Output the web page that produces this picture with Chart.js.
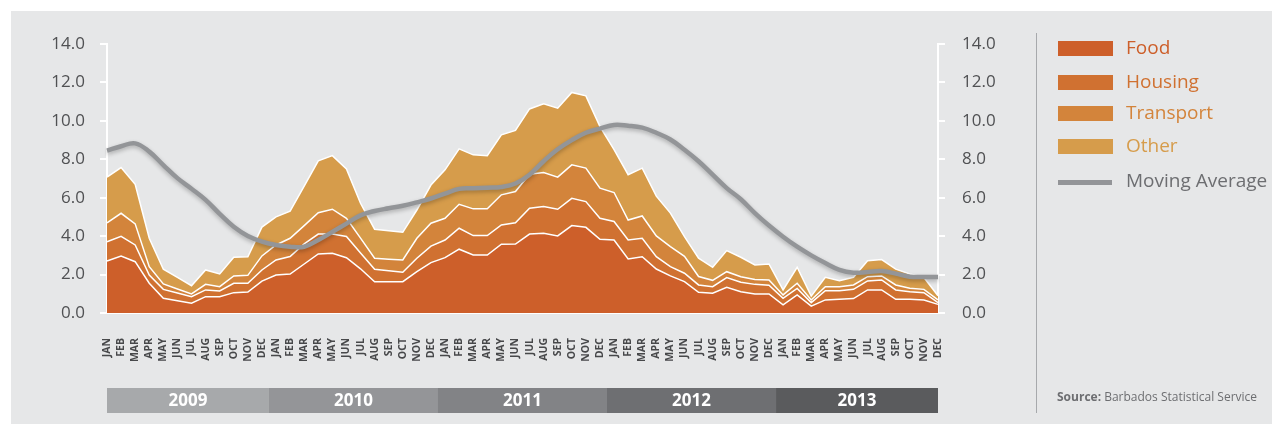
<!DOCTYPE html>
<html>
<head>
<meta charset="utf-8">
<script src="https://cdn.jsdelivr.net/npm/chart.js@4.4.1/dist/chart.umd.min.js"></script>
<style>
  html, body { margin: 0; padding: 0; background: #fff; }
  #panel { position: absolute; left: 11px; top: 11px; width: 1261px; height: 413px; background: #e6e7e8; }
  #chart { position: absolute; left: 0; top: 0; }
</style>
</head>
<body>
<div id="panel"></div>
<canvas id="chart" width="1272" height="424"></canvas>
<script>
// Valeurs (points de pourcentage)
const monthNames = ['JAN', 'FEB', 'MAR', 'APR', 'MAY', 'JUN', 'JUL', 'AUG', 'SEP', 'OCT', 'NOV', 'DEC'];
const years = ['2009', '2010', '2011', '2012', '2013'];
const seriesNames = ['Food', 'Housing', 'Transport', 'Other', 'Moving Average'];

const food = [
  2.71, 2.97, 2.67, 1.55, 0.77, 0.64, 0.51, 0.85, 0.85, 1.06, 1.09, 1.66,
  1.98, 2.03, 2.55, 3.07, 3.11, 2.88, 2.30, 1.63, 1.63, 1.63, 2.15, 2.62,
  2.88, 3.32, 3.02, 3.02, 3.58, 3.59, 4.11, 4.15, 4.01, 4.55, 4.46, 3.84,
  3.80, 2.81, 2.93, 2.29, 1.93, 1.63, 1.08, 1.03, 1.34, 1.11, 0.99, 0.99,
  0.42, 0.94, 0.36, 0.68, 0.71, 0.75, 1.20, 1.20, 0.71, 0.71, 0.68, 0.45,
];
const housing = [
  1.00, 1.02, 0.87, 0.43, 0.46, 0.40, 0.34, 0.35, 0.30, 0.49, 0.46, 0.58,
  0.78, 0.91, 1.05, 1.04, 1.00, 1.10, 0.82, 0.65, 0.57, 0.49, 0.70, 0.86,
  0.92, 1.09, 1.01, 1.01, 1.00, 1.11, 1.34, 1.39, 1.39, 1.42, 1.34, 1.09,
  0.96, 0.99, 0.96, 0.64, 0.48, 0.44, 0.38, 0.34, 0.50, 0.49, 0.50, 0.46,
  0.34, 0.34, 0.18, 0.48, 0.45, 0.48, 0.47, 0.52, 0.49, 0.40, 0.38, 0.09,
];
const transport = [
  0.98, 1.20, 1.10, 0.43, 0.28, 0.21, 0.14, 0.29, 0.22, 0.38, 0.41, 0.73,
  0.78, 0.95, 0.95, 1.11, 1.29, 0.95, 0.78, 0.57, 0.60, 0.64, 1.04, 1.19,
  1.13, 1.25, 1.39, 1.39, 1.57, 1.62, 1.77, 1.77, 1.67, 1.74, 1.74, 1.57,
  1.51, 1.04, 1.16, 1.08, 1.05, 0.88, 0.44, 0.33, 0.31, 0.29, 0.25, 0.27,
  0.18, 0.27, 0.14, 0.21, 0.21, 0.23, 0.22, 0.21, 0.26, 0.18, 0.17, 0.14,
];
const other = [
  2.38, 2.38, 2.06, 1.48, 0.77, 0.60, 0.43, 0.75, 0.66, 0.97, 0.97, 1.50,
  1.46, 1.41, 2.05, 2.70, 2.79, 2.57, 1.81, 1.51, 1.48, 1.44, 1.47, 1.99,
  2.52, 2.88, 2.81, 2.77, 3.12, 3.18, 3.40, 3.58, 3.59, 3.77, 3.76, 3.20,
  2.23, 2.36, 2.49, 2.07, 1.74, 1.02, 0.95, 0.68, 1.10, 1.01, 0.76, 0.83,
  0.26, 0.83, 0.20, 0.49, 0.31, 0.40, 0.83, 0.85, 0.82, 0.74, 0.62, 0.22,
];
const movingAverage = [
  8.45, 8.68, 8.83, 8.40, 7.70, 7.02, 6.47, 5.89, 5.16, 4.49, 4.01, 3.72,
  3.54, 3.45, 3.45, 3.80, 4.22, 4.65, 5.08, 5.31, 5.45, 5.58, 5.76, 5.96,
  6.21, 6.46, 6.49, 6.52, 6.56, 6.74, 7.20, 7.90, 8.52, 9.00, 9.38, 9.60,
  9.79, 9.75, 9.65, 9.38, 9.03, 8.50, 7.90, 7.20, 6.50, 5.92, 5.20, 4.55,
  3.97, 3.45, 3.00, 2.60, 2.25, 2.10, 2.13, 2.18, 2.05, 1.89, 1.87, 1.88,
];

const labels = [];
years.forEach(() => monthNames.forEach((m) => labels.push(m)));

const colors = ['#cd5f2a', '#d07131', '#d3843b', '#d69c4b', '#939598'];
const bandColors = ['#a7a9ab', '#949598', '#828386', '#6e6f72', '#5a5b5d'];
const font = "'Open Sans', sans-serif";

// ombre légère sous la moyenne mobile
const shadowPlugin = {
  id: 'shadow',
  beforeDatasetDraw(chart, args) {
    if (args.index !== 4) return;
    const ctx = chart.ctx;
    ctx.save();
    ctx.shadowColor = 'rgba(0,0,0,0.25)';
    ctx.shadowBlur = 4;
    ctx.shadowOffsetY = 2;
  },
  afterDatasetDraw(chart, args) {
    if (args.index === 4) chart.ctx.restore();
  },
};

// bandeaux des années, légende et source
const decorPlugin = {
  id: 'decor',
  afterDraw(chart) {
    const ctx = chart.ctx;
    const x = chart.scales.x;
    const area = chart.chartArea;
    ctx.save();

    years.forEach((yr, k) => {
      const x0 = k === 0 ? area.left : (x.getPixelForValue(12 * k - 1) + x.getPixelForValue(12 * k)) / 2;
      const x1 = k === years.length - 1 ? area.right : (x.getPixelForValue(12 * k + 11) + x.getPixelForValue(12 * k + 12)) / 2;
      ctx.fillStyle = bandColors[k];
      ctx.fillRect(x0, 388, x1 - x0, 25);
      ctx.fillStyle = '#fff';
      ctx.font = 'bold 17px ' + font;
      ctx.textAlign = 'center';
      ctx.textBaseline = 'middle';
      ctx.fillText(yr, (x0 + x1) / 2, 401);
    });

    ctx.strokeStyle = '#a7a9ac';
    ctx.lineWidth = 1;
    ctx.beginPath();
    ctx.moveTo(1036.5, 33);
    ctx.lineTo(1036.5, 413);
    ctx.stroke();

    const rows = [49, 83, 114, 147, 182];
    ctx.textAlign = 'left';
    ctx.textBaseline = 'middle';
    ctx.font = '19px ' + font;
    seriesNames.forEach((name, i) => {
      if (i < 4) {
        ctx.fillStyle = colors[i];
        ctx.fillRect(1058, rows[i] - 8, 55, 15);
        ctx.fillText(name, 1126, rows[i]);
      } else {
        ctx.fillStyle = colors[i];
        ctx.fillRect(1058, rows[i] - 2, 54, 5);
        ctx.fillStyle = '#6d6e71';
        ctx.fillText(name, 1126, rows[i]);
      }
    });

    ctx.fillStyle = '#6d6e71';
    ctx.font = 'bold 12px ' + font;
    ctx.fillText('Source:', 1057, 398);
    const w = ctx.measureText('Source: ').width;
    ctx.font = '12px ' + font;
    ctx.fillText('Barbados Statistical Service', 1057 + w, 398);
    ctx.restore();
  },
};

const areaSet = (label, data, i) => ({
  label,
  data,
  backgroundColor: colors[i],
  borderColor: '#ffffff',
  borderWidth: 1.5,
  fill: i === 0 ? 'origin' : '-1',
  pointRadius: 0,
  tension: 0,
  yAxisID: 'y',
});

const axisTicks = (pad) => ({
  color: '#505153',
  font: { family: font, size: 17 },
  padding: pad,
  stepSize: 2,
  callback: (v) => v.toFixed(1),
});

new Chart(document.getElementById('chart'), {
  type: 'line',
  data: {
    labels,
    datasets: [
      areaSet(seriesNames[0], food, 0),
      areaSet(seriesNames[1], housing, 1),
      areaSet(seriesNames[2], transport, 2),
      areaSet(seriesNames[3], other, 3),
      {
        label: seriesNames[4],
        data: movingAverage,
        borderColor: colors[4],
        borderWidth: 4.5,
        fill: false,
        pointRadius: 0,
        tension: 0.4,
        yAxisID: 'y2',
        order: -1,
      },
    ],
  },
  options: {
    responsive: false,
    animation: false,
    layout: { padding: { top: 44, right: 274, bottom: 0, left: 0 } },
    plugins: { legend: { display: false }, tooltip: { enabled: false } },
    scales: {
      x: {
        offset: false,
        grid: { display: false, drawTicks: false },
        border: { display: true, color: '#fff', width: 2 },
        ticks: {
          autoSkip: false,
          maxRotation: 90,
          minRotation: 90,
          padding: 25,
          color: '#47484a',
          font: { family: font, size: 10.5, weight: 'bold' },
        },
        afterFit: (s) => { s.height = 111; },
      },
      y: {
        position: 'left',
        stacked: true,
        min: 0,
        max: 14,
        grid: { drawOnChartArea: false, color: '#fff', lineWidth: 2, tickLength: 7 },
        border: { display: true, color: '#fff', width: 2 },
        ticks: axisTicks(15),
        afterFit: (s) => { s.width = 107; },
      },
      y2: {
        position: 'right',
        stacked: false,
        min: 0,
        max: 14,
        grid: { drawOnChartArea: false, color: '#fff', lineWidth: 2, tickLength: 7 },
        border: { display: true, color: '#fff', width: 2 },
        ticks: axisTicks(17),
        afterFit: (s) => { s.width = 60; },
      },
    },
  },
  plugins: [shadowPlugin, decorPlugin],
});
</script>
</body>
</html>
